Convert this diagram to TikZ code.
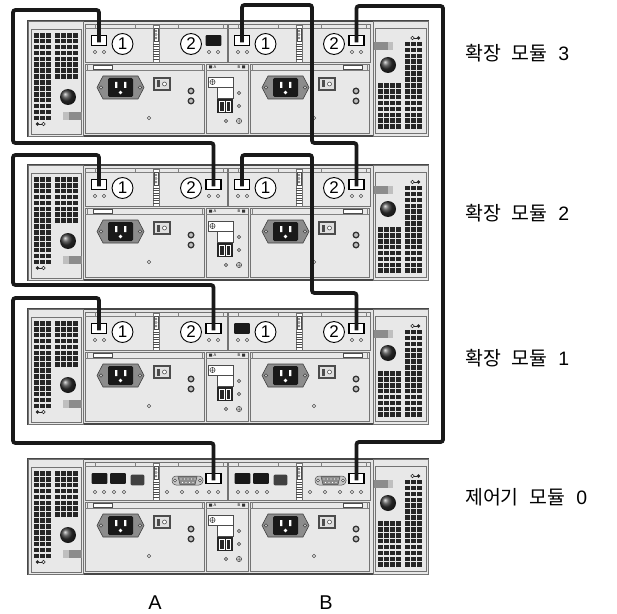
\documentclass[tikz,border=0pt]{standalone}
\usepackage{fontspec}
\setmainfont{Liberation Sans}
\newfontfamily\kofont[WordSpace=2.5]{Noto Sans CJK KR}
\usetikzlibrary{positioning}
\tikzset{%
	chassis/.style   = {draw=black!72, fill=black!10, line width=1.4pt},
	unit/.style      = {draw=black!55, fill=black!9, line width=0.6pt},
	strip/.style     = {draw=black!50, line width=0.5pt},
	cable/.style     = {draw=black!90, line width=3.8pt, rounded corners=2.5pt}, % Cable
	port/.style      = {draw=black, fill=white, line width=1.1pt, minimum width=15pt, minimum height=10.5pt, inner sep=0pt},
	lcd/.style       = {fill=black!90, rounded corners=1pt, minimum width=16pt, minimum height=11pt, inner sep=0pt},
	rj/.style        = {fill=black!75, rounded corners=2pt, minimum width=14pt, minimum height=11pt, inner sep=0pt},
	num/.style       = {draw=black, fill=white, circle, line width=0.9pt, minimum size=21pt, inner sep=0pt, font=\fontsize{17}{17}\selectfont},
	hole/.style      = {draw=black!70, fill=black!8, line width=0.6pt},
	tinytext/.style  = {inner sep=0pt, font=\fontsize{4}{4}\selectfont},
	modlabel/.style  = {anchor=west, inner sep=0pt, font=\kofont\fontsize{19.5}{23}\selectfont},
	sidelabel/.style = {inner sep=0pt, font=\fontsize{20}{24}\selectfont}
}
\newcommand{\gnd}[1]{\draw[black!75, line width=0.5pt] #1 circle (2.6) ++(-2.6,0) -- ++(5.2,0) ++(-2.6,-2.6) -- ++(0,5.2);}
\tikzset{%
	pics/fan/.style = {code={%
		\foreach \i in {0,1,2} \foreach \j in {0,...,14}
			\fill[black!85] (-21.5+6*\i, -48+5.9*\j) rectangle ++(4.6,4.6);
		\foreach \i in {0,...,3} \foreach \j in {0,...,7}
			\fill[black!85] (-0.5+6*\i, -48+5.9*\j) rectangle ++(4.6,4.6);
		\shade[ball color=black!80] (12.5,16) circle (8);
		\fill[black!45] (7.5,31) rectangle (26.5,39);
		\fill[black!25] (7.5,31) rectangle (13,39);
		\fill[black!85] (-18,43) circle (1.8);
		\draw[black!85, line width=0.6pt] (-16.2,43) -- (-13.8,43);
		\draw[black!85, line width=0.6pt] (-12,43) circle (1.8);
	}},
	pics/psu/.style = {code={%
		\draw[unit] (0,0) rectangle (119,69);
		\draw[strip] (0,6) -- (119,6) (2,0) -- (2,6) (117,0) -- (117,6);
		\draw[black!70, line width=1pt, fill=white] (#1,1.2) rectangle ++(19,4);
		% inlet
		\draw[black!75, fill=black!45, line width=0.6pt] (12,23.5) -- (18,12) -- (53,12) -- (59,23.5) -- (53,35) -- (18,35) -- cycle;
		\fill[black!90, rounded corners=1.5pt] (23,14) rectangle (48,33);
		\foreach \s in {16,55} \draw[black!75, fill=black!20, line width=0.5pt] (\s,23.5) circle (1.8);
		\fill[white] (30,18) rectangle ++(2.4,6) (39,18) rectangle ++(2.4,6);
		\fill[white] (35.5,28.5) circle (1.8);
		% switch
		\fill[black!70] (68,13) rectangle (86,27);
		\fill[black!12] (70,15) rectangle (84,25);
		\fill[black!70] (72,16.5) rectangle (75,23.5);
		\draw[black!70, line width=0.6pt, fill=white] (79.5,20) circle (2);
		\foreach \l in {27,37} \draw[black!80, line width=1.3pt, fill=black!25] (106,\l) circle (2.8);
		\draw[hole] (64,54) circle (1.8);
	}},
	pics/midplane/.style = {code={%
		\draw[unit] (0,0) rectangle (42,69);
		\draw[strip] (0,6) -- (42,6);
		\fill[black!80] (3,1.5) rectangle ++(3,3) (36,1.5) rectangle ++(3,3);
		\node[tinytext] (-ta) at (9,3) {A};
		\node[tinytext] (-tb) at (33,3) {B};
		\draw[black!70, line width=0.5pt, fill=white] (2,13) rectangle (27,23);
		\draw[black!70, line width=0.5pt, fill=white] (11,23) rectangle (27,34);
		\gnd{(6.5,18)}
		\fill[black!85] (11,35) rectangle (27,49);
		\draw[white, line width=0.6pt] (13.5,37.5) rectangle (18,47) (20,37.5) rectangle (24.5,47);
		\foreach \p in {(33,29),(33,42),(20,57)} \draw[hole] \p circle (1.6);
		\gnd{(33,57)}
	}},
	pics/iomframe/.style = {code={%
		\draw[unit] (0,0) rectangle (142,38);
		\draw[strip] (0,4) -- (142,4);
		\foreach \t in {10,50,93,138} \draw[strip] (\t,0) -- (\t,4);
		\draw[unit, fill=white] (68,1) rectangle (74,38);
		\foreach \r in {20,22.5,...,36} \draw[black!70, line width=0.5pt] (68,\r) -- (74,\r);
		\draw[black!70, line width=0.5pt] (69,4) rectangle (73,17);
		\foreach \r in {7,10.5,14} \draw[black!70, line width=0.4pt] (71,\r) circle (1.1);
	}},
	pics/expiom/.style 2 args = {code={%
		\pic {iomframe};
		\node[#1] (-pl) at (14,16.5) {};
		\node[num] (-na) at (37.5,20) {1};
		\node[num] (-nb) at (106,20) {2};
		\node[#2] (-pr) at (128.5,16.5) {};
		\foreach \d in {10,19,124,133} \draw[hole] (\d,28) circle (1.8);
	}},
	pics/ctrliom/.style = {code={%
		\pic {iomframe};
		\node[lcd] (-sfpa) at (14.5,16.5) {};
		\node[lcd] (-sfpb) at (33,16.5) {};
		\node[rj] (-rj) at (52.5,18) {};
		\draw[black!70, line width=0.5pt, fill=black!22, rounded corners=4pt] (87,14) rectangle (118,23);
		\draw[black!70, line width=0.5pt, fill=black!45] (93,14.5) -- (112,14.5) -- (110,22.5) -- (95,22.5) -- cycle;
		\foreach \s in {90,115} \draw[black!70, line width=0.5pt, fill=white] (\s,18.5) circle (1.5);
		\foreach \p in {96,99.5,103,106.5,110} \fill[white] (\p,17) circle (0.6);
		\foreach \p in {97.5,101,104.5,108} \fill[white] (\p,20.5) circle (0.6);
		\node[port] (-pr) at (128.5,16.5) {};
		\foreach \d in {10,19,29,39,82,97,112,124,133} \draw[hole] (\d,30) circle (1.8);
	}},
	pics/chassis/.style = {code={%
		\draw[chassis] (0,0) rectangle (400,115);
		\draw[unit] (0,0) rectangle (55,115);
		\draw[unit] (3,8) rectangle (53,113);
		\pic at (27.5,60) {fan};
		\draw[unit] (345,0) rectangle (400,115);
		\draw[unit] (347,7) rectangle (398,112);
		\pic[rotate=180] at (372.5,60) {fan};
		\pic at (57,43) {psu=8};
		\pic at (222,43) {psu=93};
		\pic at (178,43) {midplane};
	}}
}

\begin{document}
\begin{tikzpicture}[x=1bp, y=-1bp]
	\useasboundingbox[fill=white] (0,0) rectangle (617,614);
	% Drawing the modules
	\foreach \t/\n in {21/3, 165/2, 309/1, 459/0}
		\pic (m\n) at (28,\t) {chassis};
	\pic (m3a) at (85,24)  {expiom={port}{lcd}};
	\pic (m3b) at (228,24) {expiom={port}{port}};
	\pic (m2a) at (85,168)  {expiom={port}{port}};
	\pic (m2b) at (228,168) {expiom={port}{port}};
	\pic (m1a) at (85,312)  {expiom={port}{port}};
	\pic (m1b) at (228,312) {expiom={lcd}{port}};
	\pic (m0a) at (85,462)  {ctrliom};
	\pic (m0b) at (228,462) {ctrliom};

	% Drawing the cables
	\draw[cable] ([yshift=-2pt]m3a-pl.center) -- (m3a-pl |- 0,10) -| (13,143) -| ([yshift=-2pt]m2a-pr.center);
	\draw[cable] ([yshift=-2pt]m2a-pl.center) -- (m2a-pl |- 0,155) -| (13,285) -| ([yshift=-2pt]m1a-pr.center);
	\draw[cable] ([yshift=-2pt]m1a-pl.center) -- (m1a-pl |- 0,298) -| (13,443) -| ([yshift=-2pt]m0a-pr.center);
	\draw[cable] ([yshift=-2pt]m3b-pl.center) -- (m3b-pl |- 0,5) -| (312,143) -| ([yshift=-2pt]m2b-pr.center);
	\draw[cable] ([yshift=-2pt]m2b-pl.center) -- (m2b-pl |- 0,155) -| (312,293) -| ([yshift=-2pt]m1b-pr.center);
	\draw[cable] ([yshift=-2pt]m3b-pr.center) -- (m3b-pr |- 0,6) -| (443,442) -| ([yshift=-2pt]m0b-pr.center);

	% Labels
	\node[modlabel] (lab3) at (465,53)  {확장 모듈 {\rmfamily 3}};
	\node[modlabel] (lab2) at (465,213) {확장 모듈 {\rmfamily 2}};
	\node[modlabel] (lab1) at (465,358) {확장 모듈 {\rmfamily 1}};
	\node[modlabel] (lab0) at (465,497) {제어기 모듈 {\rmfamily 0}};
	\node[sidelabel] (sidea) at (155,603) {A};
	\node[sidelabel] (sideb) at (326,603) {B};
\end{tikzpicture}
\end{document}
